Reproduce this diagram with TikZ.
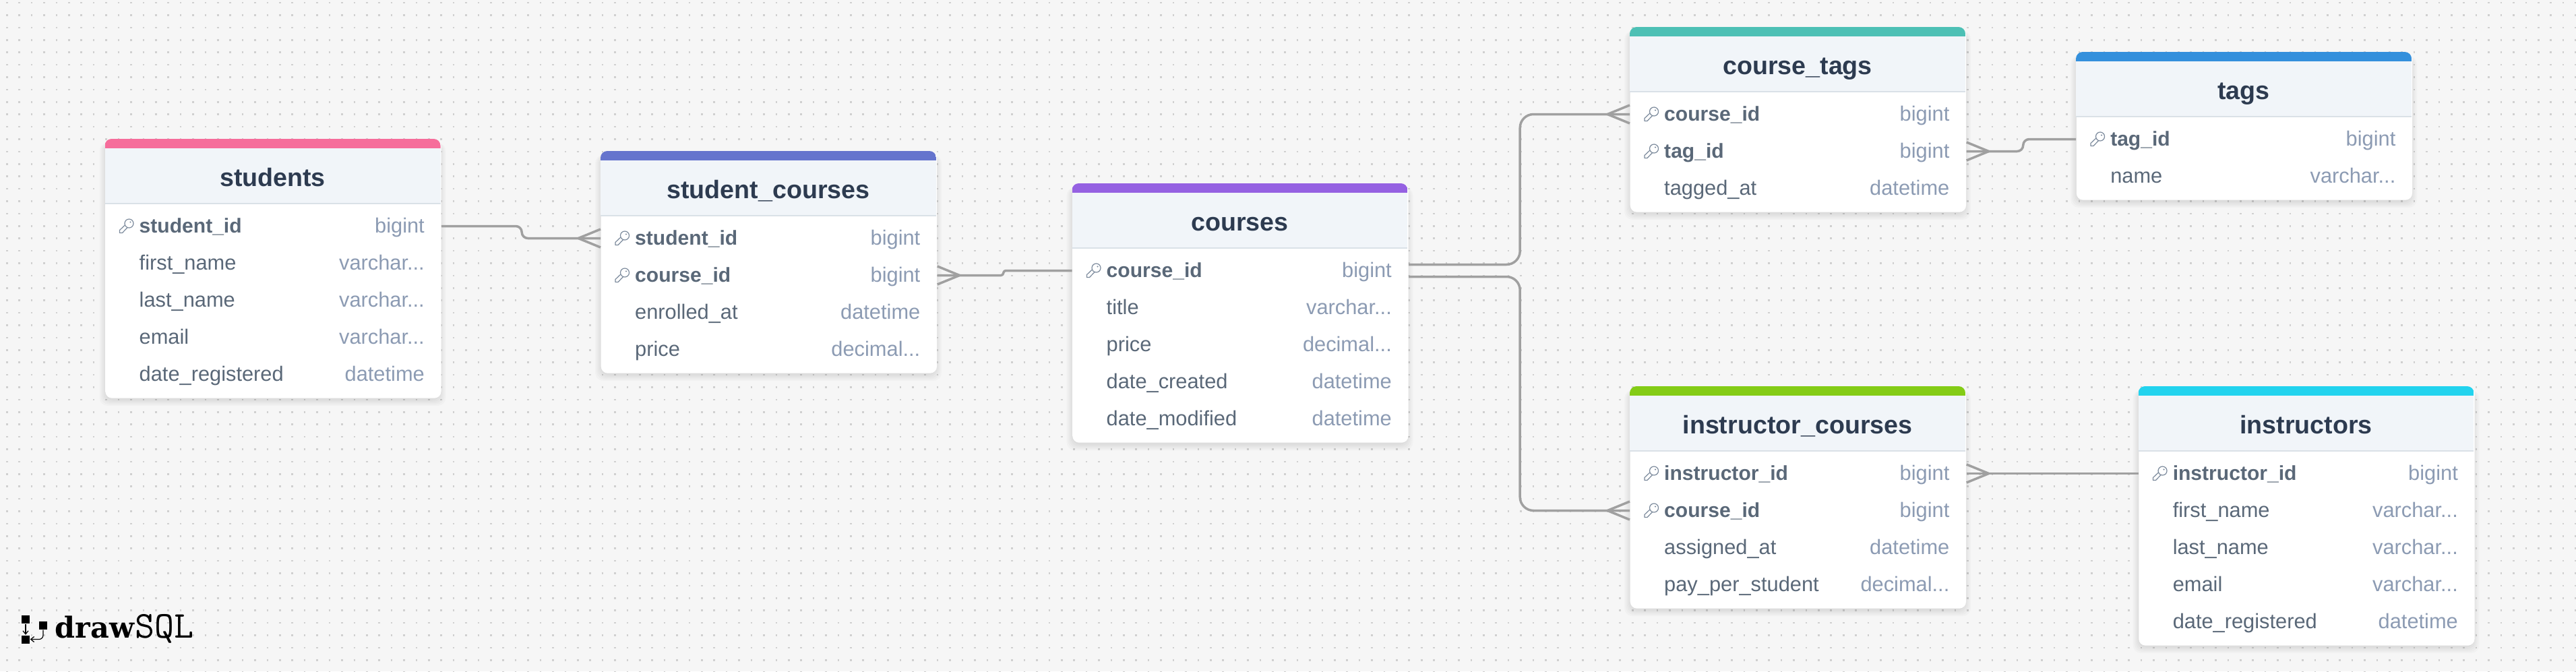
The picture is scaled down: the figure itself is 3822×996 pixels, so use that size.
\documentclass[tikz,border=0pt]{standalone}
\usepackage{fontspec}
\setmainfont{Liberation Sans}
\newfontfamily\logobold{DejaVu Serif}
\usetikzlibrary{arrows.meta}

\definecolor{canvas}{HTML}{F6F6F6}
\definecolor{griddot}{HTML}{D0D0D0}
\definecolor{headfill}{HTML}{F1F5F9}
\definecolor{headrule}{HTML}{DAE1E7}
\definecolor{titlecol}{HTML}{2D3B50}
\definecolor{fieldcol}{HTML}{5A6878}
\definecolor{typecol}{HTML}{8C9BB3}
\definecolor{keycol}{HTML}{7C8A9C}
\definecolor{relcol}{HTML}{A0A0A0}
\definecolor{pinkbar}{HTML}{F66D9B}
\definecolor{indigobar}{HTML}{6574CD}
\definecolor{purplebar}{HTML}{9561E2}
\definecolor{tealbar}{HTML}{4DC0B5}
\definecolor{bluebar}{HTML}{3490DC}
\definecolor{limebar}{HTML}{84CC16}
\definecolor{cyanbar}{HTML}{22D3EE}

\tikzset{
  griddots/.style={griddot, line width=.026cm, dash pattern=on .026cm off .158cm},
  tablebody/.style={fill=white, rounded corners=.1cm, minimum width=4.98cm, inner sep=0pt, anchor=north west},
  tabletitle/.style={anchor=base, font=\fontsize{10.7pt}{12pt}\selectfont\bfseries, text=titlecol, inner sep=0pt},
  fieldrow/.style={anchor=west, inner sep=0pt, text height=.24cm, text depth=.05cm, text=fieldcol, font=\fontsize{8.76pt}{10pt}\selectfont},
  fieldtype/.style={anchor=east, inner sep=0pt, text height=.24cm, text depth=.05cm, text=typecol, font=\fontsize{8.76pt}{10pt}\selectfont},
  keyrow0/.style={},
  keyrow1/.style={font=\fontsize{8.55pt}{10pt}\selectfont\bfseries},
  keyicon0/.pic={},
  keyicon1/.pic={
    \draw[keycol, line width=.012cm, fill=white, line join=round]
      (-1.8,-1.8) -- (-10,6) -- (-10,10) -- (-6,10) -- (1.8,1.8);
    \draw[keycol, line width=.012cm, fill=white] (4,-4) circle (6.5);
    \fill[keycol] (6,-6) circle (1.2);
  },
  rel/.style={relcol, line width=.035cm, line join=round},
  logobox/.style={fill=black, minimum size=.12cm, inner sep=0pt},
  logoline/.style={black, line width=.012cm, -{Straight Barb[length=.05cm, width=.08cm]}},
}

\newcommand{\vchar}{varchar...}
\newcommand{\dcml}{decimal...}

% name, colour, left, top, rows, title, fields
\newcommand{\dbtable}[7]{
  \foreach \g in {8,6,4,2,0}
    \fill[black, opacity=.02, rounded corners=.12cm] (#3-\g,#4+6) rectangle (#3+498+\g,#4+113+55*#5+\g);
  \node[tablebody, minimum height={(109+55*#5)*.01cm}] (#1) at (#3,#4) {};
  \begin{scope}
    \clip[rounded corners=.1cm] (#3,#4) rectangle (#3+498,#4+109+55*#5);
    \fill[#2] (#3,#4) rectangle (#3+498,#4+14);
    \fill[headfill] (#3,#4+14) rectangle (#3+498,#4+96);
    \draw[headrule, line width=.02cm] (#3,#4+96) -- (#3+498,#4+96);
  \end{scope}
  \node[tabletitle] (#1-title) at (#3+249,#4+70) {#6};
  \foreach \fname/\ftype/\fkey [count=\i] in {#7} {
    \node[fieldrow, keyrow\fkey] (#1-\i) at (#3+50.5,#4+74.5+55*\i) {\fname};
    \node[fieldtype] (#1-type\i) at (#3+475,#4+74.5+55*\i) {\ftype};
    \pic at (#3+32,#4+74.5+55*\i) {keyicon\fkey};
  }
}

% edge point, signed length
\newcommand{\crowfoot}[2]{
  \draw[rel] #1 ++(0,-13.5) -- ++(#2,13.5) -- ++(-#2,13.5);
}

\begin{document}
\begin{tikzpicture}[x=.01cm, y=-.01cm]
\useasboundingbox (0,0) rectangle (3822,996);
\fill[canvas] (0,0) rectangle (3822,996);
\foreach \row in {0,...,54}
  \draw[griddots] (9,4.1+18.4*\row) -- (3822,4.1+18.4*\row);

% tables
\dbtable{students}{pinkbar}{155.5}{206}{5}{students}{student\_id/bigint/1, first\_name/\vchar/0, last\_name/\vchar/0, email/\vchar/0, date\_registered/datetime/0}
\dbtable{stcourses}{indigobar}{891}{224}{4}{student\_courses}{student\_id/bigint/1, course\_id/bigint/1, enrolled\_at/datetime/0, price/\dcml/0}
\dbtable{courses}{purplebar}{1590.5}{272}{5}{courses}{course\_id/bigint/1, title/\vchar/0, price/\dcml/0, date\_created/datetime/0, date\_modified/datetime/0}
\dbtable{ctags}{tealbar}{2418}{40}{3}{course\_tags}{course\_id/bigint/1, tag\_id/bigint/1, tagged\_at/datetime/0}
\dbtable{tags}{bluebar}{3080}{77}{2}{tags}{tag\_id/bigint/1, name/\vchar/0}
\dbtable{incourses}{limebar}{2418}{573}{4}{instructor\_courses}{instructor\_id/bigint/1, course\_id/bigint/1, assigned\_at/datetime/0, pay\_per\_student/\dcml/0}
\dbtable{instructors}{cyanbar}{3172.5}{573}{5}{instructors}{instructor\_id/bigint/1, first\_name/\vchar/0, last\_name/\vchar/0, email/\vchar/0, date\_registered/datetime/0}

% relations
\draw[rel, rounded corners=.09cm]
  (students.east |- students-1) -- ++(119,0) |- (stcourses.west |- stcourses-1);
\crowfoot{(stcourses.west |- stcourses-1)}{-33}
\draw[rel, rounded corners=.035cm]
  (stcourses.east |- stcourses-2) -- ++(98,0) |- (courses.west |- courses-1);
\crowfoot{(stcourses.east |- stcourses-2)}{33}
\draw[rel, rounded corners=.2cm]
  (courses.east |- courses-1) ++(0,-9) -- ++(165,0) |- (ctags.west |- ctags-1);
\crowfoot{(ctags.west |- ctags-1)}{-33}
\draw[rel, rounded corners=.2cm]
  (courses.east |- courses-1) ++(0,9) -- ++(165,0) |- (incourses.west |- incourses-2);
\crowfoot{(incourses.west |- incourses-2)}{-33}
\draw[rel, rounded corners=.09cm]
  (ctags.east |- ctags-2) -- ++(84,0) |- (tags.west |- tags-1);
\crowfoot{(ctags.east |- ctags-2)}{33}
\draw[rel]
  (incourses.east |- incourses-1) -- (instructors.west |- instructors-1);
\crowfoot{(incourses.east |- incourses-1)}{33}

% logo
\node[logobox] (logoa) at (38,919) {};
\node[logobox] (logob) at (64,928) {};
\node[logobox] (logoc) at (38,948.5) {};
\draw[logoline] (logoa) -- (logoc);
\draw[logoline, rounded corners=.06cm] (logob) |- (logoc);
\node[inner sep=0pt, anchor=base west, font=\logobold\bfseries\fontsize{12.2pt}{13pt}\selectfont] (logodraw) at (81,946) {draw};
\node[inner sep=0pt, anchor=base west, font=\ttfamily\fontsize{16pt}{17pt}\selectfont] (logosql) at (200,946) {SQL};
\end{tikzpicture}
\end{document}
